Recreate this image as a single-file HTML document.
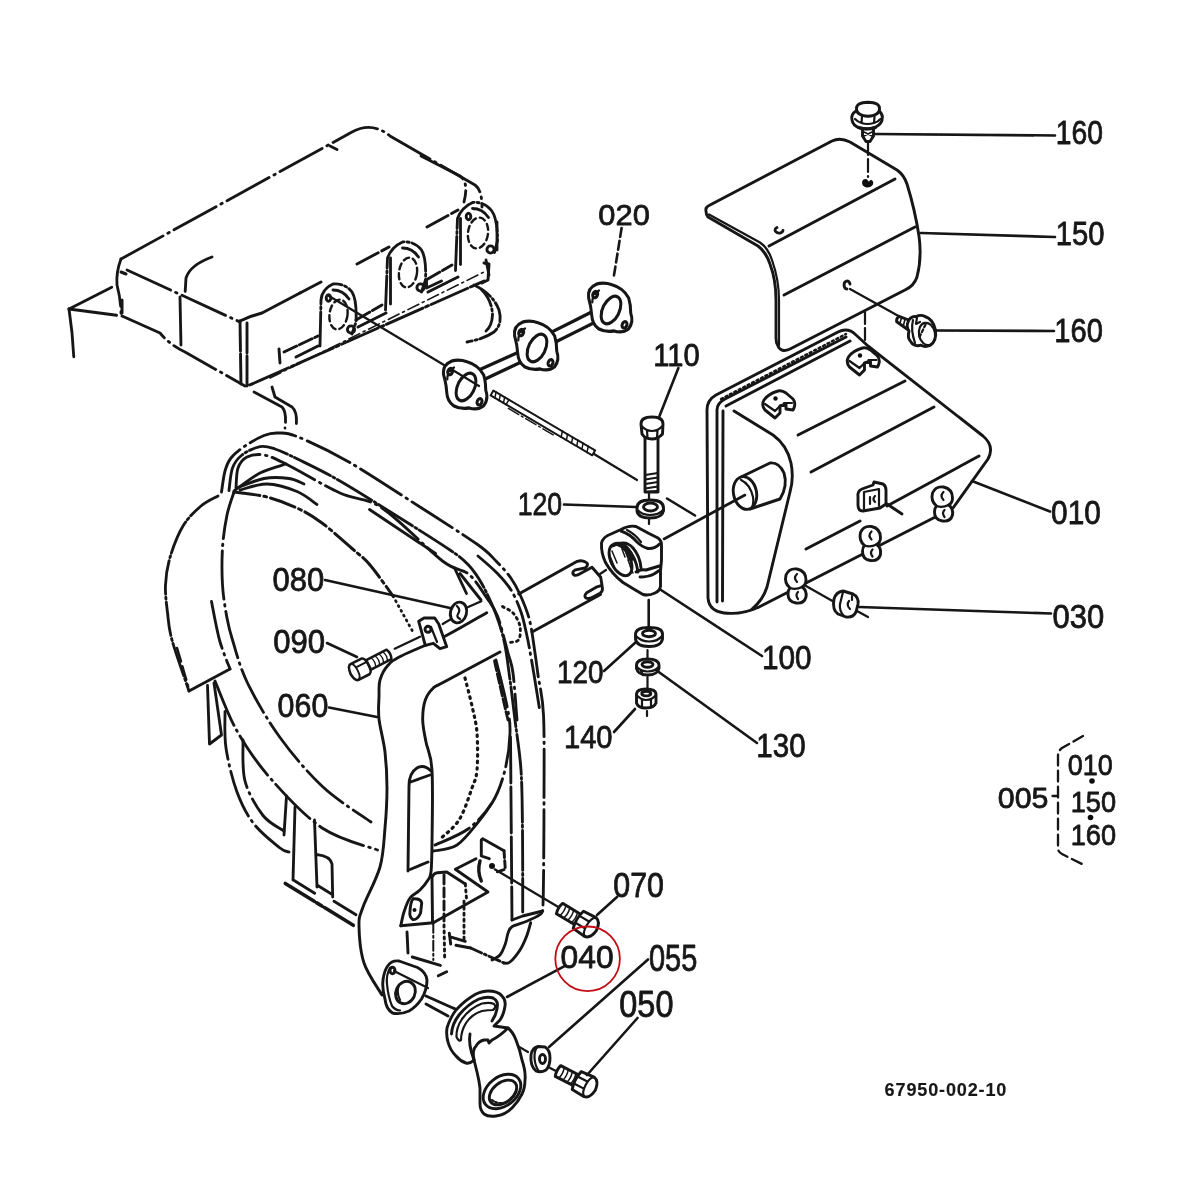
<!DOCTYPE html>
<html lang="en">
<head>
<meta charset="utf-8">
<title>Muffler parts diagram 67950-002-10</title>
<style>
html,body{margin:0;padding:0;background:#fff;}
body{width:1200px;height:1200px;overflow:hidden;position:relative;font-family:"Liberation Sans",sans-serif;}
svg{position:absolute;left:0;top:0;display:block;}
.s{fill:none;stroke:#141414;stroke-width:2.9;stroke-linecap:round;stroke-linejoin:round;}
.w{fill:#fff;stroke:#141414;stroke-width:2.9;stroke-linecap:round;stroke-linejoin:round;}
.t{fill:none;stroke:#141414;stroke-width:2.2;stroke-linecap:round;stroke-linejoin:round;}
.d{fill:none;stroke:#161616;stroke-width:2.85;stroke-linecap:round;stroke-linejoin:round;stroke-dasharray:48 5.5 1.5 5.5;}
.dd{fill:none;stroke:#161616;stroke-width:2.4;stroke-linecap:round;stroke-linejoin:round;stroke-dasharray:6 4;}
.l{fill:none;stroke:#141414;stroke-width:2.6;stroke-linecap:round;}
text{font-family:"Liberation Sans",sans-serif;fill:#161616;stroke:#161616;stroke-width:.8px;stroke-linejoin:round;}
.dn{stroke-width:.15px;}
.n{font-size:32px;}
.k{fill:#111;stroke:none;}
</style>
</head>
<body>
<svg width="1200" height="1200" viewBox="0 0 1200 1200">
<defs><filter id="soft" x="0" y="0" width="1200" height="1200" filterUnits="userSpaceOnUse"><feGaussianBlur stdDeviation="0.55"/></filter></defs>
<rect width="1200" height="1200" fill="#fff"/>
<g filter="url(#soft)">

<g id="head">
<!-- cylinder head (phantom) -->
<g class="d">
<path d="M121 259 L352 132 Q372 121 390 136 L475 185 Q482 190 482 207"/>
<path d="M421 156 L460 176 Q469 182 464 202"/>
<path d="M330 146 L337 149.500" stroke-dasharray="none"/>
<path d="M121 272 L126 274 M122 300 L122 313" stroke-dasharray="none" stroke-width="3"/>
<path d="M121 259 Q116 272 117 285 Q121 300 121 315"/>
<path d="M69 309 L116 285"/>
<path d="M69 309 L122 316"/>
<path d="M69 309 Q73 335 74 362"/>
<path d="M127 270 L240 322"/>
<path d="M122 316 L160 333 Q170 345 185 352 L245 386"/>
<path d="M180 297 L181 347"/>
<path d="M212 257 Q190 265 186 278 L185 295"/>
<path d="M254 392 L282 407 Q287 412 285 428"/>
<path d="M272 387 L275 397 L292 407 Q298 412 296 428"/>
</g>
<g class="s">
<path d="M240 321 L241 386 M247 323 L247 386 L252 384" stroke-dasharray="30 3"/>
<path d="M240 321 Q250 316 262 313 L300 293" />
<path d="M300 293 L321 282 M357 264 L389 247 M427 227 L458 210" stroke-dasharray="24 4"/>
<path d="M252 384 L484 281" stroke-dasharray="40 3 3 3" />
<path d="M296 357 L318 346 M358 327 L386 313 M428 292 L458 277 M484 263 L489 264 L488 280 L482 283" />
<path d="M270 378 L484 272" stroke-dasharray="12 4 2 4" stroke-width="1.6"/>
<path d="M279 349 L280 363 M284 352 L318 336" stroke-dasharray="14 3"/>
</g>
<!-- exhaust port bosses -->
<g id="port1">
<path class="d" d="M320 346 L321 300 Q322 289 333 284 Q345 283 352 292 Q357 300 356 322 L352 334" style="stroke-dasharray:34 3 2 3"/>
<path class="d" d="M333 290 Q343 290 349 299" />
<ellipse class="dd" cx="338.5" cy="314.5" rx="9" ry="15" transform="rotate(8 338.5 314.5)"/>
<circle class="s" cx="351" cy="329.5" r="3.6"/>
<ellipse class="s" cx="328.500" cy="298" rx="2.300" ry="3.2"/>
</g>
<g transform="translate(69.5 -42)">
<path class="d" d="M316 352 L318 300 Q322 289 333 284 Q345 283 352 292 Q357 300 356 322 L352 334" style="stroke-dasharray:34 3 2 3"/>
<path class="d" d="M321 346 L321 300"/>
<path class="d" d="M333 290 Q343 290 349 299" />
<ellipse class="dd" cx="338.5" cy="314.5" rx="9" ry="15" transform="rotate(8 338.5 314.5)"/>
<circle class="s" cx="351" cy="329.5" r="3.6"/>
<path class="s" d="M357 322 L357 330 L372 323"/>
</g>
<g transform="translate(139.5 -81.5)">
<path class="d" d="M316 352 L318 300 Q322 289 333 284 Q345 283 352 292 Q358 300 358 322 L355 334" style="stroke-dasharray:34 3 2 3"/>
<path class="d" d="M321 346 L321 300"/>
<path class="d" d="M333 290 Q343 290 349 299" />
<ellipse class="dd" cx="338.5" cy="314.5" rx="10" ry="15.500" transform="rotate(8 338.5 314.5)"/>
<circle class="s" cx="351" cy="331" r="3.6"/>
<ellipse class="s" cx="329" cy="298" rx="2.300" ry="3.2"/>
</g>
<path class="s" d="M356 320 L382 305 M426 280 L452 265" style="stroke-dasharray:16 3"/>
<!-- water outlet tube -->
<path class="d" d="M474 285 Q493 294 499 310 Q503 324 494 332 Q484 339 467 342" style="stroke-dasharray:20 3 2 3"/>
<path class="d" d="M481 289 Q492 300 492.500 315 Q492 326 486 331" style="stroke-dasharray:20 3 2 3"/>
<path class="d" d="M497 222 L497 250 M486 260 L489 275"/>
</g>
<g id="gasket">
<!-- stud axis -->
<path class="t" d="M329 296 L449 368"/>
<path class="t" d="M594 454 L637 480"/>
<!-- gasket 020 : connecting bars -->
<path class="w" d="M480 369.400 L524 349.800 L526 359.700 L482 380.500 Z M550 332.900 L595 310.200 L598 320.800 L553 343.200 Z" style="stroke-width:3.3"/>
<g transform="translate(1 4) translate(465 383) scale(1.04 1.1) translate(-465 -383)" style="stroke-width:3.3">
<path class="w" d="M443.500 372 Q442 363 451 359.500 Q458 357.500 466 360 Q477 363 482 372 Q484 378 484 386 Q487 394 482 400 Q476 404.500 468 402 Q460 403.500 453 400 Q447 396 446.500 388 Q446 380 443.500 372 Z"/>
<ellipse class="s" cx="465" cy="383" rx="8" ry="13.500" transform="rotate(28 465 383)"/>
<ellipse class="s" cx="449.800" cy="369" rx="2.2" ry="3" transform="rotate(28 449.800 369)"/>
<ellipse class="s" cx="478" cy="396.500" rx="2.2" ry="3" transform="rotate(28 478 396.500)"/>
<path class="t" d="M447 376 Q447 369 454 365" style="stroke-dasharray:5 3"/>
</g>
<g transform="translate(72 -35) translate(465 383) scale(1.04 1.1) translate(-465 -383)" style="stroke-width:3.3">
<path class="w" d="M443.500 372 Q442 363 451 359.500 Q458 357.500 466 360 Q477 363 482 372 Q484 378 484 386 Q487 394 482 400 Q476 404.500 468 402 Q460 403.500 453 400 Q447 396 446.500 388 Q446 380 443.500 372 Z"/>
<ellipse class="s" cx="465" cy="383" rx="8" ry="13.500" transform="rotate(28 465 383)"/>
<ellipse class="s" cx="449.800" cy="369" rx="2.2" ry="3" transform="rotate(28 449.800 369)"/>
<ellipse class="s" cx="478" cy="396.500" rx="2.2" ry="3" transform="rotate(28 478 396.500)"/>
<path class="t" d="M447 376 Q447 369 454 365" style="stroke-dasharray:5 3"/>
</g>
<g transform="translate(146 -73) translate(465 383) scale(1.04 1.1) translate(-465 -383)" style="stroke-width:3.3">
<path class="w" d="M443.500 372 Q442 363 451 359.500 Q458 357.500 466 360 Q477 363 482 372 Q484 378 484 386 Q487 394 482 400 Q476 404.500 468 402 Q460 403.500 453 400 Q447 396 446.500 388 Q446 380 443.500 372 Z"/>
<ellipse class="s" cx="465" cy="383" rx="8" ry="13.500" transform="rotate(28 465 383)"/>
<ellipse class="s" cx="449.800" cy="369" rx="2.2" ry="3" transform="rotate(28 449.800 369)"/>
<ellipse class="s" cx="478" cy="396.500" rx="2.2" ry="3" transform="rotate(28 478 396.500)"/>
<path class="t" d="M447 376 Q447 369 454 365" style="stroke-dasharray:5 3"/>
</g>
<path class="t" d="M451 369 L479 386"/>
<!-- stud -->
<g transform="translate(492 393) rotate(30.500)">
<path class="w" d="M0 -2.800 L118 -2.800 L118 2.800 L0 2.800 Z" style="stroke-width:2"/>
<path class="t" d="M3 -3 L5 3 M8 -3 L10 3 M13 -3 L15 3 M18 -3 L18 3" style="stroke-width:1.5"/>
<path class="t" d="M80 -3 L82 3 M86 -3 L88 3 M92 -3 L94 3 M98 -3 L100 3 M104 -3 L106 3 M110 -3 L112 3" style="stroke-width:1.5"/>
<path class="t" d="M22 5 L74 5" style="stroke-dasharray:12 3 2 3;stroke-width:1.400"/>
</g>
</g>
<g id="housing">
<!-- flywheel housing (phantom) -->
<g class="d">
<!-- outer band L1 -->
<path d="M221.5 492 C222.1 488.5 223.4 476.7 225 471 C226.6 465.3 227.7 462.2 231 458 C234.3 453.8 239.5 449.8 245 446 C250.5 442.2 258.5 437.7 264 435.5 C269.5 433.3 272.5 432.8 278 433 C283.5 433.2 285.3 431.8 297 436.5 C308.7 441.2 327.5 449.8 348 461.5 C368.5 473.2 398.4 493.2 420 507 C441.6 520.8 464.8 535.5 477.5 544.5 C490.2 553.5 490.5 555.5 496 561 C501.5 566.5 506.5 571.9 510.5 577.5 C514.5 583.1 516.8 587.4 520 594.5 C523.2 601.6 527.0 610.2 529.5 620 C532.0 629.8 533.6 643.8 535 653 C536.4 662.2 536.6 664.7 538 675 C539.4 685.3 542.5 694.2 543.5 715 C544.5 735.8 544.0 772.5 544 800 C544.0 827.5 543.7 862.5 543.5 880 C543.3 897.5 543.1 900.8 543 905"/>
<!-- L2 -->
<path d="M229 490.5 C229.6 486.8 230.3 473.9 232.5 468 C234.7 462.1 237.4 458.6 242 455 C246.6 451.4 254.5 447.6 260 446.6 C265.5 445.6 268.6 446.9 275 449 C281.4 451.1 287.7 454.2 298.5 459.5 C309.3 464.8 323.1 471.2 340 481 C356.9 490.8 381.7 506.5 400 518 C418.3 529.5 438.6 542.2 450 550 C461.4 557.8 463.2 559.3 468.5 565 C473.8 570.7 477.5 576.0 482 584 C486.5 592.0 491.8 603.2 495.5 613 C499.2 622.8 502.1 631.8 504.5 643 C506.9 654.2 508.2 667.2 510 680 C511.8 692.8 513.2 705.0 515 720 C516.8 735.0 519.8 751.7 521 770 C522.2 788.3 522.2 806.3 522.5 830 C522.8 853.7 522.7 898.3 522.7 912" stroke-dasharray="40 3 2 3"/>
<!-- L4 -->
<path d="M478 556 C481.2 558.8 491.5 567.3 497 573 C502.5 578.7 507.0 583.5 511 590 C515.0 596.5 518.3 604.3 521 612 C523.7 619.7 525.2 628.0 527 636 C528.8 644.0 529.9 651.0 531.5 660 C533.1 669.0 535.1 681.3 536.5 690 C537.9 698.7 539.4 708.3 540 712"/>
<!-- L3 -->
<path d="M236 488 C236.3 484.7 236.2 473.2 238 468 C239.8 462.8 242.7 459.2 247 457 C251.3 454.8 257.5 453.8 264 455 C270.5 456.2 273.3 457.7 286 464 C298.7 470.3 324.0 485.7 340 493 C356.0 500.3 364.9 496.7 382 508 C399.1 519.3 428.1 550.0 442.5 561 C456.9 572.0 461.2 567.9 468.5 574 C475.8 580.1 481.7 590.5 486.5 597.5 C491.3 604.5 493.9 606.8 497.5 616 C501.1 625.2 505.4 643.5 508 653 C510.6 662.5 511.5 661.8 513 673 C514.5 684.2 516.3 712.2 517 720"/>
<path d="M369.5 509.5 L435.500 553.500" stroke-dasharray="none"/>
<!-- fan lines -->
<path d="M234 491 C238.3 488.0 251.3 477.5 260 473 C268.7 468.5 281.7 465.5 286 464" stroke-dasharray="none"/>
<path d="M237 488 C241.5 486.4 255.3 480.1 264 478.5 C272.7 476.9 282.3 477.6 289 478.5 C295.7 479.4 301.5 483.1 304 484" stroke-dasharray="none"/>
<path d="M240 490 C244.5 489.0 257.5 483.8 267 484 C276.5 484.2 288.7 488.1 297 491.5 C305.3 494.9 313.7 502.3 317 504.5" stroke-dasharray="none"/>
<!-- face upper edge (textured) -->
<path d="M234 492 C239.5 492.8 256.5 494.3 267 497 C277.5 499.7 287.8 503.7 297 508 C306.2 512.3 312.8 516.2 322 523 C331.2 529.8 344.0 541.5 352 548.5 C360.0 555.5 363.2 557.1 370 565 C376.8 572.9 389.2 590.8 393 596" stroke-width="3" stroke-dasharray="26 4 3 4"/>
<path d="M393 596 L413 632" stroke-width="2.800" stroke-dasharray="1 4.500"/>
<!-- face ellipse left/bottom -->
<path d="M234 492 C232.8 495.8 228.9 505.7 227 515 C225.1 524.3 223.2 536.3 222.5 548 C221.8 559.7 221.8 573.3 222.5 585 C223.2 596.7 225.3 608.8 227 618 C228.7 627.2 229.1 629.2 232.5 640 C235.9 650.8 239.6 666.8 247.5 683 C255.4 699.2 267.4 720.2 280 737.5 C292.6 754.8 307.8 772.9 323 787 C338.2 801.1 363.0 816.2 371 822"/>
<path d="M215 681 C218.7 689.3 227.7 714.7 237 731 C246.3 747.3 256.7 762.8 271 779 C285.3 795.2 305.2 816.7 323 828.5 C340.8 840.3 368.4 846.4 377.5 850"/>
<!-- flap -->
<path d="M218 496 C215.2 497.7 206.8 501.0 201 506 C195.2 511.0 188.2 517.4 183 526 C177.8 534.6 172.9 547.7 170 557.5 C167.1 567.3 165.9 575.8 165.5 585 C165.1 594.2 166.4 603.3 167.5 612.5 C168.6 621.7 168.4 626.9 172 640 C175.6 653.1 186.2 682.5 189 691" stroke-dasharray="34 3 2 3"/>
<path d="M189 691 L230 669" stroke-dasharray="none"/>
<path d="M211.5 601.5 C212.8 607.9 216.4 628.8 219.5 640 C222.6 651.2 228.2 664.2 230 669"/>
<path d="M177 648 L188 686" stroke-dasharray="14 5" stroke-width="2.600"/>
<!-- hanging piece -->
<path d="M207.500 685.500 L209.500 744 L221.500 735 L214 683" stroke-dasharray="none"/>
<!-- lower-left arcs -->
<path d="M225 711.5 C225.2 717.6 224.0 734.6 226 748 C228.0 761.4 232.3 779.3 237 792 C241.7 804.7 246.8 814.7 254 824 C261.2 833.3 274.2 843.3 280 848 C285.8 852.7 287.5 851.3 289 852"/>
<path d="M243 740 C243.3 746.8 241.7 768.4 245 781 C248.3 793.6 256.5 807.2 263 815.5 C269.5 823.8 280.5 828.4 284 831"/>
<!-- legs -->
<path d="M286.500 796 L284 835 M295 807 L293 880 M314.500 820 L317 887 M293.300 880 L314.700 893.300 M317.300 854.700 Q330 856 332 864 L332.700 897 M317.300 885.300 L332.700 894.700" stroke-dasharray="none"/>
<path d="M285.300 883.500 L353.300 925.300" stroke-dasharray="34 3 6 3" stroke-width="3.600"/>
<path d="M334 901.300 L356 914.700" stroke-dasharray="none"/>
<!-- right interior -->
<path d="M465 678 C466.2 682.7 470.0 696.8 472 706 C474.0 715.2 476.2 722.3 477 733 C477.8 743.7 477.8 760.8 477 770 C476.2 779.2 475.0 779.7 472 788 C469.0 796.3 464.5 811.3 459 820 C453.5 828.7 442.3 836.7 439 840" stroke-width="3.2" stroke-dasharray="1.500 5"/>
<path d="M496 660 C497.8 667.7 504.7 693.8 507 706 C509.3 718.2 510.3 722.3 510 733 C509.7 743.7 508.0 758.3 505 770 C502.0 781.7 498.2 793.2 492 803 C485.8 812.8 477.5 822.0 468 829 C458.5 836.0 440.5 842.3 435 845"/>
<path d="M492 803 C489.8 806.0 484.8 814.0 479 821 C473.2 828.0 464.6 840.0 457 845 C449.4 850.0 437.4 850.0 433.5 851" stroke-dasharray="none"/>
<path d="M510.500 737 L512 920" stroke-dasharray="46 4"/>
<path d="M494.5 661 C495.6 665.8 498.8 680.2 501 690 C503.2 699.8 506.8 715.0 508 720" stroke-dasharray="10 3"/>
<!-- wedge near bracket -->
<path d="M454.500 568 L466.500 593.500 M460 573.500 L481 600" stroke-dasharray="none"/>
<path d="M502.5 606.5 C504.3 607.7 510.6 610.2 513.5 613.5 C516.4 616.8 519.2 622.1 520 626.5 C520.8 630.9 520.5 637.3 518.5 640 C516.5 642.7 509.8 642.1 508 642.5" stroke-dasharray="2 4"/>
</g>
</g>
<g id="pipe">
<!-- exhaust pipe 060 -->
<g class="s">
<path d="M486.7 612.7 C479.6 616.7 458.2 629.5 444 636.7 C429.8 643.9 410.6 651.2 401.3 656 C392.0 660.8 391.6 661.3 388 665.3 C384.4 669.3 381.5 674.7 380 680 C378.5 685.3 379.2 690.5 379 697 C378.8 703.5 378.0 709.8 379 719 C380.0 728.2 383.7 740.5 385 752 C386.3 763.5 387.0 775.3 387 788 C387.0 800.7 386.2 814.8 385 828 C383.8 841.2 383.7 853.8 380 867 C376.3 880.2 366.5 897.2 363 907 C359.5 916.8 358.8 916.7 359 926 C359.2 935.3 360.2 951.5 364 963 C367.8 974.5 379.0 989.7 382 995"/>
<path d="M500 652 C490.7 657.0 455.1 676.0 444 682 C432.9 688.0 436.4 685.0 433.3 688 C430.2 691.0 427.1 694.7 425.3 700 C423.5 705.3 422.6 713.0 422.7 720 C422.8 727.0 424.4 733.7 426 742 C427.6 750.3 431.0 753.2 432 770 C433.0 786.8 432.2 826.0 432 843 C431.8 860.0 431.7 865.8 431 872 C430.3 878.2 429.8 877.0 428 880 C426.2 883.0 423.0 887.0 420 890 C417.0 893.0 412.7 894.3 410 898 C407.3 901.7 405.5 907.4 404 912 C402.5 916.6 401.3 923.5 400.8 925.8"/>
<!-- plate on pipe -->
<path d="M408 871 L409 786 Q409 773 417 768 Q424 764 431 771"/>
<path d="M410.500 782 L430 775 M410 869.500 L428 862"/>
</g>
<!-- bracket + bolt 090 + washer 080 -->
<path class="t" d="M394.700 648.700 L420 636.700 M442.700 624 L450.700 619.300 M467 607.500 L481.300 601.300"/>
<path class="w" d="M418.700 621.300 L424 618 L434.700 618 L438.700 624 L446.700 646.700 L440 648.700 L433.300 643.300 L425.300 645.300 Z"/>
<circle class="s" cx="428" cy="629.300" r="3"/>
<path class="t" d="M431 627 L437 642"/>
<ellipse class="w" cx="458.500" cy="612.500" rx="8" ry="10.500" transform="rotate(15 458.500 612.500)"/>
<path class="t" d="M457 606 Q461 610 458 614 Q456 617 460 619"/>
<g transform="translate(354.500 672) rotate(-27) scale(.88)">
<path class="w" d="M0 -10 Q-4 -10 -5 0 Q-4 10 0 10 L14 10 Q18 9 18 0 Q18 -9 14 -10 Z"/>
<path class="t" d="M0 -10 Q4 -9 4 0 Q4 9 0 10 M4 -4 L17 -4"/>
<path class="w" d="M18 -6 L44 -6 Q47 0 44 6 L18 6 Z"/>
<path class="t" d="M24 -6 Q27 0 24 6 M29 -6 Q32 0 29 6 M34 -6 Q37 0 34 6 M39 -6 Q42 0 39 6" style="stroke-width:1.5"/>
</g>
</g>
<g id="cover">
<!-- heat shield cover 150 -->
<path class="w" d="M706 211 Q705 207 710 205 L832 141 Q840 137 850 142 L897 170 Q904 175 907 184 Q915 210 919 236 Q922 258 917 277 Q914 286 905 290 L790 349 Q781 353 778 346 Q776 343 776 338 L776 300 Q776 280 770 264 Q766 252 758 246 L708 217 Q706 215 706 211 Z"/>
<path class="t" d="M709 214.5 L760 242.5 Q768 248 772 260 Q779 280 779 300 L779 345"/>
<path class="s" d="M769 246 L895 179"/>
<path class="s" d="M784 295 L915 227"/>
<path class="k" d="M862 182.500 Q862.500 178.500 867 179.200 L868.500 181.500 L871 179.800 Q874 181 873 184.500 Q871 187.800 866.500 187.500 Q862 186.500 862 182.500 Z"/>
<path class="s" d="M777 227.5 a4 3 0 1 0 6 3" />
<path class="s" d="M847 289 a3 4 0 1 1 3 -5" />
<!-- bolt 160 top -->
<path class="t" d="M868 142 L868 177" style="stroke-dasharray:13 4"/>
<path class="w" d="M862.500 127 L862.500 136 L866 141.500 L870 141.500 L873.500 136 L873.500 127 Z"/>
<path class="t" d="M864 132 L872 136 M872 132 L864 136" style="stroke-width:1.5"/>
<path class="w" d="M852 120 Q850.500 114.500 856 111 L879 111 Q883.500 114.500 882 120.500 Q880 126 873 127.800 Q867 129.500 860 128 Q853 126 852 120 Z"/>
<path class="w" d="M856.500 109 Q856 102.500 868 102.300 Q880 102.500 879.500 109 Q879.500 115.500 868 116.300 Q856.500 115.500 856.500 109 Z"/>
<path class="t" d="M862 116.500 L861.500 123 Q867 125 874 123 L874.500 116.500 M855 119 Q858 122 861.500 123 M874 123 Q878 122 880.500 119"/>
<path class="s" d="M858.500 127.500 Q867 130.500 875.500 127.500" style="stroke-width:3"/>
<!-- bolt 160 side -->
<path class="t" d="M850 289 L898.500 316"/>
<path class="w" d="M899 316.300 Q896 318.500 896.700 321.700 L908 329.700 L911.300 321 Z"/>
<path class="t" d="M901.500 318 L899.800 323.500 M905 319.300 L903.300 326 M908.500 320.500 L906.800 328.500" style="stroke-width:1.6"/>
<path class="w" d="M908 322 Q910 316 916 316.500 Q921 314.300 925 316.500 Q933 319 935.500 330 Q937 341 930 345.500 Q925 347.500 921 345.200 Q914 347 911 342 Q907 338 909 331 Q906 327 908 322 Z"/>
<ellipse class="t" cx="927" cy="334" rx="8" ry="11.300" transform="rotate(-12 927 334)"/>
<path class="t" d="M913 320 Q910.500 330 915 343 M917 317.500 L916 324 L920 322"/>
<path class="t" d="M925.500 324.500 L919.500 337" style="stroke-dasharray:3 2.500"/>
<path class="t" d="M865 312 L865 344" style="stroke-dasharray:12 4"/>
</g>
<g id="muffler">
<!-- muffler 010 : back plate -->
<path class="w" d="M707 410 Q707 400 716 395 L838 332 Q848 327 856 335 L868 346 L983 436 Q995 446 988 459 L953 508 L759 607 Q742 615 724 613 Q709 611 708 598 Z"/>
<path class="s" d="M717 602 L717 410 Q717 403 725 399 L846 337"/>
<path class="t" d="M721 399 L846 334" style="stroke-dasharray:2 3;stroke-width:2.4"/>
<path class="s" d="M722.500 601 L723 411"/>
<!-- body -->
<path class="s" d="M726 406 L850 341"/>
<path class="s" d="M734 411 L773 435 Q787 445 791 463 Q794 478 790 492 L767 587 Q763 600 752 609"/>
<path class="s" d="M798 435 L905 381"/>
<path class="s" d="M811 472 L934 407"/>
<path class="s" d="M806 549 L860 521 M887 506 L979 456"/>
<path class="s" d="M887 504 L902 514"/>
<!-- outlet pipe -->
<path class="w" d="M741 477 L770 463 Q779 462 784 473 Q788 486 780 499 L750 509 Z"/>
<ellipse class="w" cx="745" cy="493" rx="11.5" ry="16.5" transform="rotate(-12 745 493)"/>
<path class="t" d="M741 480 Q750 484 753 497 Q754 503 752 507"/>
<!-- clips on top -->
<g id="clipA">
<path class="w" d="M765 410 Q761 405 764 400 Q768 394 778 391 Q782 390 786 393 L793 399 Q796 403 794 408 L793 410 L786 409 L786 404 L780 406 L780 413 L775 418 Z"/>
<path class="t" d="M765 404 L775 411 L780 406 M784 403 L792 403"/>
<circle class="k" cx="775.5" cy="398.5" r="2.2"/>
</g>
<g transform="translate(84.5 -43)">
<path class="w" d="M765 410 Q761 405 764 400 Q768 394 778 391 Q782 390 786 393 L793 399 Q796 403 794 408 L793 410 L786 409 L786 404 L780 406 L780 413 L775 418 Z"/>
<path class="t" d="M765 404 L775 411 L780 406 M784 403 L792 403"/>
<circle class="k" cx="775.5" cy="398.5" r="2.2"/>
</g>
<!-- side clip -->
<path class="w" d="M858 497 Q857 491 862 489 L873 485 L874 482 L883 484 Q886 486 886 490 L886 504 L880 508 L863 511 Q858 511 858 505 Z"/>
<path class="t" d="M864 492 L879 489 L879 506 M864 492 L864 509 M870 497 L870 504 M875 496 Q872 499 875 502"/>
<!-- tube clips -->
<g id="tc">
<path class="w" d="M786 575 Q789 568 797 569 Q806 571 806 580 Q806 585 802 587 Q807 590 806 597 Q804 604 796 603 Q788 602 788 594 Q788 590 790 588 Q784 583 786 575 Z"/>
<path class="t" d="M790 588 Q796 590 802 587 M797 574 Q793 578 797 582 M798 592 Q795 595 798 599"/>
</g>
<g transform="translate(74.5 -42.5)">
<path class="w" d="M786 575 Q789 568 797 569 Q806 571 806 580 Q806 585 802 587 Q807 590 806 597 Q804 604 796 603 Q788 602 788 594 Q788 590 790 588 Q784 583 786 575 Z"/>
<path class="t" d="M790 588 Q796 590 802 587 M797 574 Q793 578 797 582 M798 592 Q795 595 798 599"/>
</g>
<g transform="translate(146.5 -82)">
<path class="w" d="M786 575 Q789 568 797 569 Q806 571 806 580 Q806 585 802 587 Q807 590 806 597 Q804 604 796 603 Q788 602 788 594 Q788 590 790 588 Q784 583 786 575 Z"/>
<path class="t" d="M790 588 Q796 590 802 587 M797 574 Q793 578 797 582 M798 592 Q795 595 798 599"/>
</g>
<!-- nut 030 -->
<path class="t" d="M806 586 L836 603 M857 611 L868 617"/>
<path class="w" d="M834 599 Q836 592 843 591 L853 594 Q859 597 858 604 L856 612 Q853 618 846 617 L838 614 Q832 610 834 599 Z"/>
<path class="t" d="M843 592 L840 604 Q839 611 844 616 M849 601 Q846 605 850 609 M852 596 L852 600"/>
</g>
<g id="clamp">
<!-- axis lines -->
<path class="l" d="M664 539 L745 495"/>
<path class="l" d="M667 498.5 L695 515.5"/>
<path class="t" d="M649 493 L649 501 M649 519 L649 524" />
<path class="l" d="M648.7 600 L648.7 628"/>
<path class="t" d="M647.5 650 L647.5 659 M647.5 677 L647.5 688 M647 711 L647 716" />
<!-- bolt 110 -->
<path class="w" d="M645 437 L645 492 L658 492 L658 437 Z"/>
<path class="t" d="M645 475 L658 473 M645 479.5 L658 477.5 M645 484 L658 482 M645 488.5 L658 486.5 M645.5 492 L658 491" style="stroke-width:2"/>
<path class="w" d="M641 424 Q641 417 652 417 Q663 417 663 424 L662.5 434 Q658 439 652 439 Q645 439 642 434 Z"/>
<path class="t" d="M641.5 426 Q646 431 652 431 Q658 431 662.5 426 M647 430.5 L647.5 438 M657.5 430.5 L657 438"/>
<!-- washer 120 upper -->
<path class="w" d="M637 508 Q637 500 650 500 Q663.5 500 663.5 508 L663.5 511 Q662 518 650 518 Q638 518 637 511 Z"/>
<path class="t" d="M637.5 510 Q642 515 650 515 Q659 515 663 510"/>
<ellipse class="s" cx="650.5" cy="507" rx="7" ry="4"/>
<!-- pipe-end (060) with slots -->
<path class="s" d="M518.700 594 L577.300 561.300 Q583 559.500 587 563 Q588.500 566 585 568 L575.500 569.800 Q571.500 572 573.500 574.500 Q576 576.500 580 573.800 L592 567.300 L600.700 577.300 L602 585.300 L597 586.800 L586.700 592.700 Q583.500 596 586 598 Q589 599.500 593 597 L600 593.300 Q603.500 591 602 586"/>
<path class="s" d="M600.500 594.500 L532 632"/>
<path class="t" d="M600 574 L606 570"/>
<!-- clamp 100 -->
<path class="w" d="M601.5 543 Q603 537 611 534 L621 529.5 Q629 525 636 526.5 L649 533.5 L658 538 Q662 541 661.5 546 L661.5 560 L660.5 571 L660.5 586 Q660 591 655 593 Q649 596 643 594.5 L634.5 589.5 L623 582.5 Q612 574 605.5 562.5 Q601 553 601.5 543 Z"/>
<ellipse class="w" cx="620.5" cy="560" rx="9.5" ry="17" transform="rotate(-27 620.5 560)"/>
<path class="s" d="M614 544 Q620 541 627 548 Q636 557 638 572 M619 543.5 Q627 541 633 548 Q640 556 641 568"/>
<path class="s" d="M621 531 Q630 534 637 542 Q642 547 648 548.5 Q655 549 659.5 544"/>
<path class="t" d="M627 530 Q635 534 641 542"/>
<path class="s" d="M636 572 Q640 569 646 570 L659.500 566 M640 577 Q648 577 654 574 L660 570"/>
<path class="t" d="M610 556 L614 566 M612 551 L617 563 M626 553 L629 561 M628 560 L631 568 M622 549 L625 557 M630 566 L633 573" style="stroke-width:1.5"/>
<path class="s" d="M613 545.500 Q620 541.500 626 547 Q631 552 633 559" style="stroke-width:3.600"/>
<!-- washer 120 lower -->
<path class="w" d="M635.5 634 Q636 627.500 649 627.500 Q662.500 627.500 662.500 634 L662.500 639 Q661 646.500 649 646.500 Q636.500 646.500 635.5 639 Z"/>
<path class="t" d="M636 636 Q641 641.500 649 641.500 Q658 641.500 662 636"/>
<ellipse class="s" cx="649" cy="633.5" rx="6.5" ry="3.2"/>
<!-- lock washer 130 -->
<path class="w" d="M636.5 665 Q637 659 647.500 659 Q658.500 659 659 665 L659 668.500 Q657.500 675 647.500 675 Q638 675 636.5 668.500 Z"/>
<path class="t" d="M637 667 Q641 671.500 647.500 671.500 Q655 671.500 658.500 667 M641 671 L643 675"/>
<ellipse class="s" cx="647.5" cy="664.5" rx="5.5" ry="2.800"/>
<!-- nut 140 -->
<path class="w" d="M636.500 694 Q637 689 646 689 Q655.500 689 656 694 L656 703 Q654 708 646 708 Q638 708 636.500 703 Z"/>
<path class="t" d="M636.500 695 Q641 700 646 700 Q652 700 656 695 M642 699.500 L642 707.500 M651 699.500 L651 707.500"/>
<ellipse class="s" cx="646.3" cy="693.6" rx="4.500" ry="2.300"/>
</g>
<g id="elbow">
<!-- lower pipe flange -->
<path class="w" d="M388 965.500 Q392 960 399 961 L417.500 967.500 Q426 972 427 980 Q427 990 421.500 999 Q416 1007 409 1011 Q400 1015 392.500 1013 Q386 1009 385 999 Q382 989 383 980 Q384 971 388 965.500 Z"/>
<path class="t" d="M390 968 Q386 975 387 984 Q388 996 392 1006 Q395 1010 400 1010.500"/>
<ellipse class="s" cx="405.500" cy="992.500" rx="9.500" ry="11.500" transform="rotate(25 405.500 992.500)"/>
<path class="t" d="M399 985 Q396 992 400 1000"/>
<ellipse class="s" cx="392.500" cy="970.500" rx="2.500" ry="3.200"/>
<!-- studs to elbow -->
<path class="t" d="M394 971 L428 988"/>
<path class="s" d="M426 996 L454 1008.500 M426 1004 L448 1016"/>
<!-- bracket cluster -->
<g class="s">
<path d="M413 898.800 Q421 898.500 421.700 903 L420.600 913 Q417.500 920 413 919.600 Q409 917 410 911 Q410.500 902 413 898.800 Z"/>
<path d="M400.800 925.800 L433.300 922.700"/>
<path d="M432.500 923 L432 877.300 Q433.500 873.500 437.300 872.700 L446.700 872 L465.300 884"/>
<path d="M465.300 884 L466.700 901.300 M464 901.300 L464 940" stroke-dasharray="2 4"/>
<path d="M444 875 L444 921" stroke-dasharray="9 4"/>
<path d="M476 858.700 L455.300 869.300 L488 892 L433.300 922.700"/>
<path d="M433.300 922.700 L433.300 960" stroke-dasharray="10 3 2 3" stroke-width="2"/>
<path d="M444 925 L444.700 960" stroke-dasharray="2 4"/>
<path d="M449.300 933.300 L450.700 944 M452 937.300 L465.300 941.300 M456 945.300 L470.700 948"/>
<path d="M407 932 L408 953 M412.300 957 L440.400 965.400 M438.300 975.800 L446.700 971.700"/>
<path d="M482.700 838.700 L504 850.700 M481.300 840 L481.300 856 L489.300 858.700"/>
<path d="M504 850.700 L505.300 869.300 L497 872" stroke-dasharray="7 3"/>
<path d="M480 861 Q477 871 481.300 881" stroke-width="3.400"/>
<path d="M512 920 L522.700 916 L542.700 911"/>
<path d="M542.7 910.7 C542.2 911.4 542.7 912.9 540 914.7 C537.3 916.5 531.4 919.3 526.7 921.3 C522.0 923.3 515.1 924.7 512 926.7 C508.9 928.7 509.1 930.4 508 933.3 C506.9 936.2 506.6 940.4 505.3 944 C504.0 947.6 502.2 952.3 500 955 C497.8 957.7 493.3 959.2 492 960" stroke-width="2.800"/>
<path d="M530.7 922.7 C530.0 924.9 528.5 931.5 526.7 936 C524.9 940.5 522.8 945.7 520 950 C517.2 954.3 512.7 959.8 510 962 C507.3 964.2 505.0 962.8 504 963"/>
</g>
<circle class="k" cx="414.500" cy="910" r="2"/>
<circle class="k" cx="492" cy="866" r="3"/>
<path class="d" d="M470.700 948 L504 963" style="stroke-dasharray:12 3 2 3"/>
<!-- bolt 070 -->
<path class="t" d="M494.700 869.300 L560 908"/>
<g transform="translate(559.5 908.5) rotate(31)">
<path class="w" d="M0 -6 L22 -6 L22 6 L0 6 Q-2 0 0 -6 Z"/>
<path class="t" d="M4 -6 Q6 0 4 6 M8.500 -6 Q10.500 0 8.500 6 M13 -6 Q15 0 13 6 M17.500 -6 Q19.500 0 17.500 6" style="stroke-width:1.5"/>
<path class="w" d="M22 -10 L36 -11 Q42 -10 43 0 Q42 10 36 11 L22 10 Q19 0 22 -10 Z"/>
<path class="t" d="M36 -11 Q32 -9 32 0 Q32 9 36 11 M22 -4 L32 -4 M22 4 L32 4"/>
</g>
<!-- elbow 040 -->
<path class="t" d="M454 1008 L528 1052"/>
<path class="w" d="M447 1028 Q450 1018 456 1010 Q465 1000 476 994 Q483 991 488 991 Q498 991 502 996 Q506 1000 505 1006 Q504 1014 500 1020 L494 1026 L508 1028 Q513 1032 516 1040 Q520 1050 522 1060 Q526 1072 525 1080 Q525 1088 522 1094 Q518 1102 512 1108 Q505 1115 496 1116 Q488 1117 484 1114 Q480 1110 480 1104 L480 1088 Q479 1080 477 1072 L474 1060 Q470 1064 466 1063 Q460 1061 456 1056 Q450 1050 448 1042 Q446 1035 447 1028 Z"/>
<path class="s" d="M451.500 1034 Q452 1024 459 1015 Q468 1004 479 999 Q487 996 493 998 Q499 1001 497 1009 Q496 1015 492 1021"/>
<path class="t" d="M456.500 1037 Q456 1028 462 1019 Q470 1008 482 1003.500 Q490 1002 494 1004 Q497 1007 493 1010 Q488 1010 482 1011 Q472 1014 466 1023 Q461 1031 461 1040 Q459 1042 456.500 1037 Z"/>
<path class="s" d="M474 1060 Q472 1050 476 1046 Q479 1041 484 1040 L488 1040 L489 1043 L492 1040 Q500 1036 508 1028"/>
<path class="s" d="M470 1034 Q468 1044 474 1060"/>
<ellipse class="s" cx="502" cy="1091.500" rx="21" ry="14.500" transform="rotate(-38 502 1091.500)"/>
<ellipse class="s" cx="503" cy="1092.500" rx="15.500" ry="10" transform="rotate(-38 503 1092.500)"/>
<path class="t" d="M492 1100 Q498 1105 507 1102 Q514 1098 517 1090" style="stroke-dasharray:2 2;stroke-width:2.200"/>
<!-- washer 055 -->
<path class="t" d="M550 1068 L558 1072"/>
<path class="w" d="M531 1055 Q532 1048 538 1046.500 L545 1047 Q550 1050 550 1058 Q550 1066 546 1070 Q541 1073 536 1071 Q530 1066 531 1055 Z"/>
<path class="t" d="M538 1046.500 Q534 1050 534.500 1058 Q535 1066 539 1071.500"/>
<ellipse class="s" cx="542.500" cy="1059" rx="3" ry="4.500"/>
<!-- bolt 050 -->
<g transform="translate(558 1071) rotate(27)">
<path class="w" d="M0 -6 L21 -6 L21 6 L0 6 Q-2 0 0 -6 Z"/>
<path class="t" d="M4 -6 Q6 0 4 6 M8.500 -6 Q10.500 0 8.500 6 M13 -6 Q15 0 13 6 M17 -6 Q19 0 17 6" style="stroke-width:1.500"/>
<path class="w" d="M21 -10 L35 -11 Q41 -10 42 0 Q41 10 35 11 L21 10 Q18 0 21 -10 Z"/>
<path class="t" d="M35 -11 Q31 -9 31 0 Q31 9 35 11 M21 -4 L31 -4 M21 4 L31 4"/>
</g>
</g>
<g id="group">
<!-- assembly group 005 -->
<path class="l" d="M1083 736 L1062 748 Q1058 751 1058 756 L1058 848 Q1058 852 1062 854 L1083 864.500" style="stroke-dasharray:11 5;stroke-width:2.300"/>
<path class="l" d="M1052.500 796 L1058 796" style="stroke-width:2.300"/>
<circle class="k" cx="1092" cy="781" r="2.800"/>
<circle class="k" cx="1090.500" cy="817.500" r="2.800"/>
</g>

<!-- leaders -->
<g class="l" id="leaders">
<path d="M874 134 L1055 135.500"/>
<path d="M921 233 L1055 237"/>
<path d="M936 330.500 L1054 331"/>
<path d="M972 481 L1050 511.500"/>
<path d="M859 607 L1051 613.500"/>
<path d="M621.600 228 L613.400 279" style="stroke-dasharray:9 4"/>
<path d="M678.400 368 L659.500 416"/>
<path d="M564 504.500 L636 507"/>
<path d="M325 580 L450 608"/>
<path d="M327 643 L357 657"/>
<path d="M329 707.500 L377 717"/>
<path d="M604 671 L636 642"/>
<path d="M614 732 L635 709"/>
<path d="M661 590 L762 656"/>
<path d="M656 670 L757 743"/>
<path d="M597 915 L617 897"/>
<path d="M507 997 L565 965.800"/>
<path d="M549 1047 L648 959.500"/>
<path d="M587 1075 L637.500 1018"/>
</g>

<!-- callout numbers -->
<g id="labels">
<text x="1055.83" y="143.68" font-size="33.12" textLength="47.21" lengthAdjust="spacingAndGlyphs">160</text>
<text x="1055.83" y="244.82" font-size="32.30" textLength="48.72" lengthAdjust="spacingAndGlyphs">150</text>
<text x="1054.33" y="342.32" font-size="33.31" textLength="48.60" lengthAdjust="spacingAndGlyphs">160</text>
<text x="1051.11" y="524.30" font-size="33.31" textLength="49.82" lengthAdjust="spacingAndGlyphs">010</text>
<text x="1052.61" y="628.06" font-size="33.31" textLength="51.64" lengthAdjust="spacingAndGlyphs">030</text>
<text x="598.35" y="224.82" font-size="30.32" textLength="51.44" lengthAdjust="spacingAndGlyphs">020</text>
<text x="653.19" y="365.94" font-size="30.90" textLength="46.40" lengthAdjust="spacingAndGlyphs">110</text>
<text x="517.71" y="515.30" font-size="32.02" textLength="44.37" lengthAdjust="spacingAndGlyphs">120</text>
<text x="272.61" y="590.56" font-size="33.31" textLength="51.64" lengthAdjust="spacingAndGlyphs">080</text>
<text x="273.23" y="652.70" font-size="33.31" textLength="51.82" lengthAdjust="spacingAndGlyphs">090</text>
<text x="277.61" y="717.44" font-size="33.72" textLength="50.74" lengthAdjust="spacingAndGlyphs">060</text>
<text x="556.95" y="683.30" font-size="32.02" textLength="46.53" lengthAdjust="spacingAndGlyphs">120</text>
<text x="563.95" y="747.94" font-size="30.59" textLength="48.64" lengthAdjust="spacingAndGlyphs">140</text>
<text x="761.95" y="669.06" font-size="33.45" textLength="49.64" lengthAdjust="spacingAndGlyphs">100</text>
<text x="756.33" y="756.82" font-size="33.45" textLength="49.31" lengthAdjust="spacingAndGlyphs">130</text>
<text x="613.23" y="897.06" font-size="34.55" textLength="50.72" lengthAdjust="spacingAndGlyphs">070</text>
<text x="560.53" y="967.94" font-size="32.13" textLength="53.13" lengthAdjust="spacingAndGlyphs">040</text>
<text x="648.97" y="970.94" font-size="36.00" textLength="48.27" lengthAdjust="spacingAndGlyphs">055</text>
<text x="619.35" y="1016.94" font-size="36.00" textLength="54.07" lengthAdjust="spacingAndGlyphs">050</text>
<text x="997.85" y="807.94" font-size="30.29" textLength="50.64" lengthAdjust="spacingAndGlyphs">005</text>
<text x="1067.85" y="774.82" font-size="29.47" textLength="45.04" lengthAdjust="spacingAndGlyphs">010</text>
<text x="1070.71" y="811.70" font-size="29.47" textLength="45.37" lengthAdjust="spacingAndGlyphs">150</text>
<text x="1070.71" y="845.44" font-size="30.29" textLength="45.37" lengthAdjust="spacingAndGlyphs">160</text>
<text x="884.61" y="1095.82" font-size="18.06" textLength="121.72" lengthAdjust="spacing" font-weight="bold" class="dn">67950-002-10</text>
</g>

<!-- selected callout marker -->
<circle cx="587.6" cy="958.8" r="32.3" fill="none" stroke="#c30d16" stroke-width="1.8"/>

</g>
</svg>
</body>
</html>
